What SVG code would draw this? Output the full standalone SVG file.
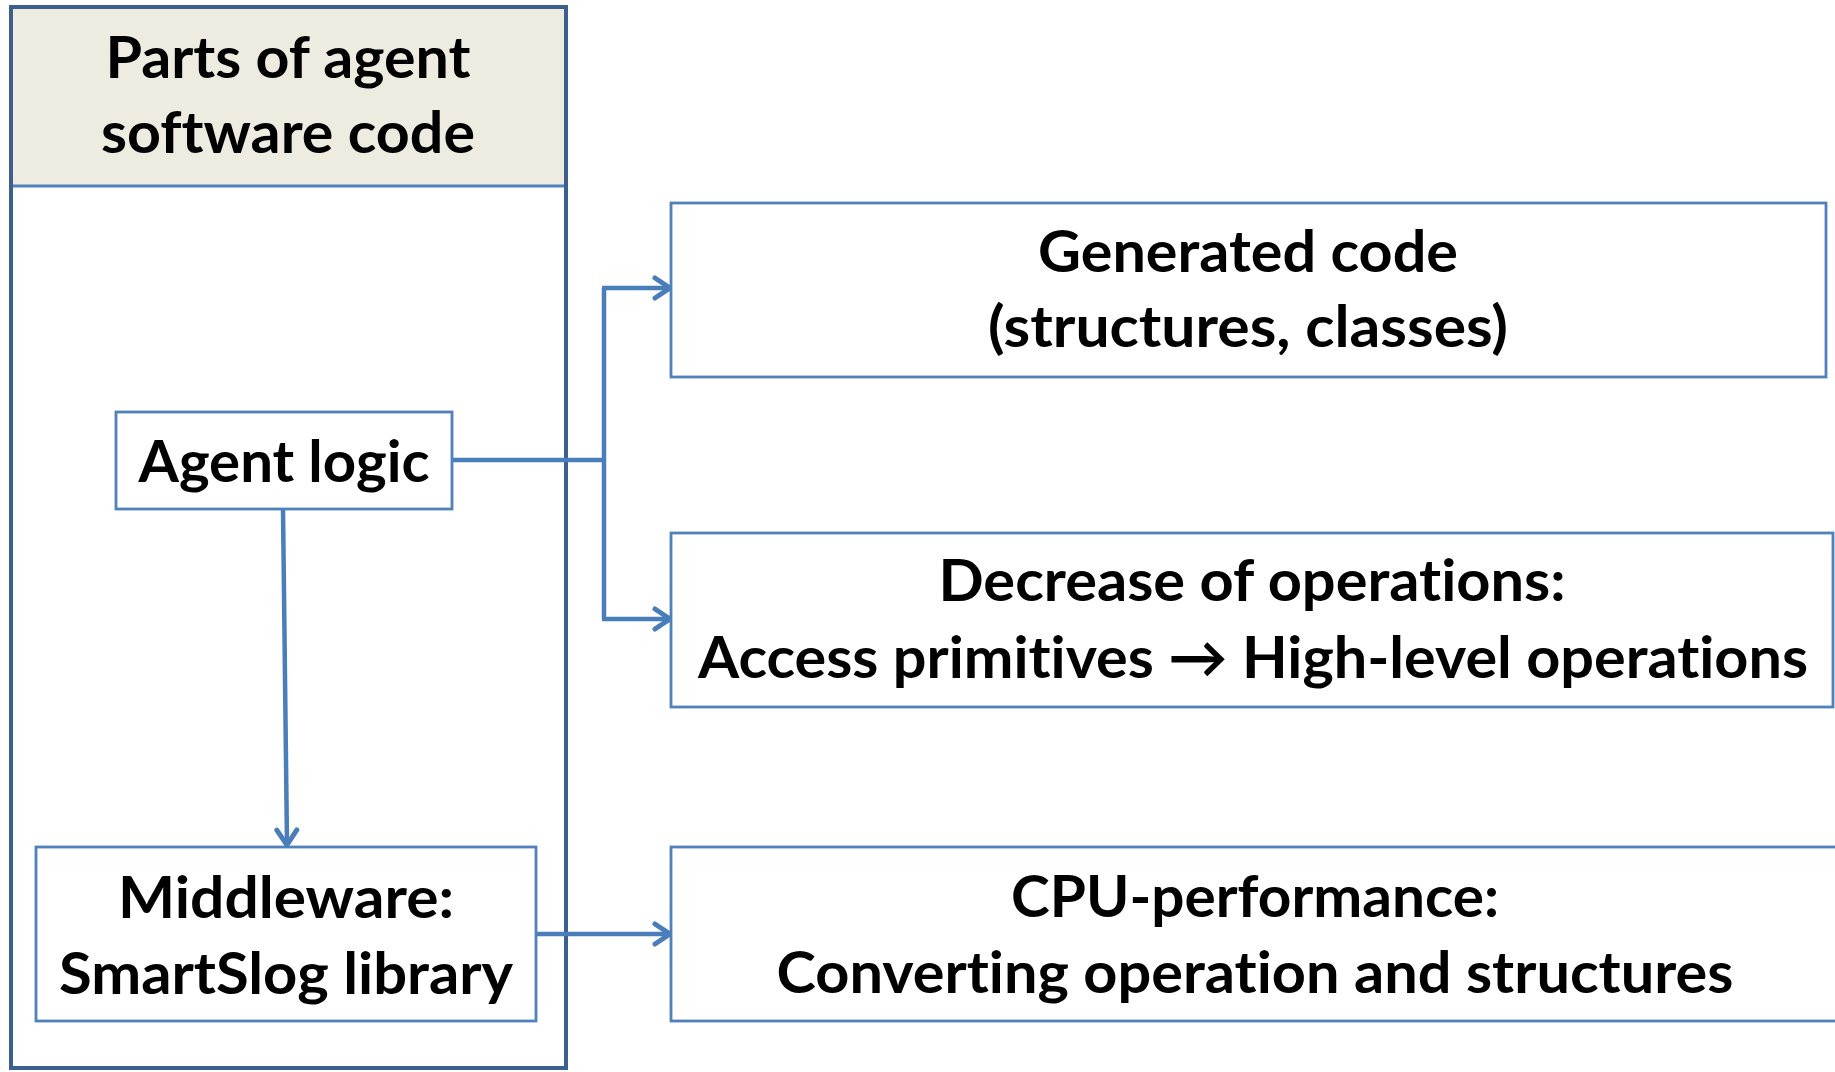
<svg xmlns="http://www.w3.org/2000/svg" width="1835" height="1072" viewBox="0 0 1835 1072">
<style>
.t{font-family:"Lato","Open Sans","Liberation Sans",sans-serif;font-weight:bold;font-size:58px;fill:#000;text-anchor:middle;font-variant-ligatures:none;font-feature-settings:"liga" 0,"clig" 0}
.box{fill:#fff;stroke:#4F81BD;stroke-width:2.8}
.con{fill:none;stroke:#4A7EBB;stroke-width:4.5}
</style>
<defs>
<marker id="arr" viewBox="0 0 26 26" refX="22" refY="13" markerWidth="26" markerHeight="26" orient="auto" markerUnits="userSpaceOnUse">
<path d="M7,3 L22,13 L7,23" fill="none" stroke="#4A7EBB" stroke-width="5" stroke-linecap="round" stroke-linejoin="round"/>
</marker>
</defs>
<rect width="1835" height="1072" fill="#fff"/>
<g id="container">
<rect x="11" y="7" width="555" height="179" fill="#EEECE1"/>
<line x1="11" y1="186" x2="566" y2="186" stroke="#4F81BD" stroke-width="3"/>
<rect x="11" y="7" width="555" height="1061" fill="none" stroke="#3B5F8F" stroke-width="4"/>
<text class="t" x="288" y="78" textLength="365" lengthAdjust="spacingAndGlyphs">Parts of agent</text>
<text class="t" x="288" y="153" textLength="374" lengthAdjust="spacingAndGlyphs">software code</text>
</g>
<g id="connectors">
<line class="con" x1="452" y1="460" x2="604" y2="460"/>
<line class="con" x1="604" y1="288" x2="604" y2="619"/>
<line class="con" x1="602" y1="288" x2="670" y2="288" marker-end="url(#arr)"/>
<line class="con" x1="602" y1="619" x2="670" y2="619" marker-end="url(#arr)"/>
<line class="con" x1="283" y1="509" x2="287" y2="845" marker-end="url(#arr)"/>
<line class="con" x1="536" y1="934" x2="670" y2="934" marker-end="url(#arr)"/>
</g>
<g id="agent-logic">
<rect class="box" x="116" y="412" width="336" height="97"/>
<text class="t" x="284" y="482" textLength="291" lengthAdjust="spacingAndGlyphs">Agent logic</text>
</g>
<g id="middleware">
<rect class="box" x="36" y="847" width="500" height="174"/>
<text class="t" x="286" y="918" textLength="336" lengthAdjust="spacingAndGlyphs">Middleware:</text>
<text class="t" x="286" y="994" textLength="454" lengthAdjust="spacingAndGlyphs">SmartSlog library</text>
</g>
<g id="generated-code">
<rect class="box" x="671" y="203" width="1155" height="174"/>
<text class="t" x="1248" y="272" textLength="420" lengthAdjust="spacingAndGlyphs">Generated code</text>
<text class="t" x="1248" y="347" textLength="520" lengthAdjust="spacingAndGlyphs">(structures, classes)</text>
</g>
<g id="decrease">
<rect class="box" x="671" y="533" width="1162" height="174"/>
<text class="t" x="1252" y="601" textLength="627" lengthAdjust="spacingAndGlyphs">Decrease of operations:</text>
<text class="t" x="1253" y="678" textLength="1110" lengthAdjust="spacingAndGlyphs">Access primitives → High-level operations</text>
</g>
<g id="cpu">
<rect class="box" x="671" y="847" width="1175" height="174"/>
<text class="t" x="1255" y="917" textLength="488" lengthAdjust="spacingAndGlyphs">CPU-performance:</text>
<text class="t" x="1255" y="993" textLength="957" lengthAdjust="spacingAndGlyphs">Converting operation and structures</text>
</g>
</svg>
